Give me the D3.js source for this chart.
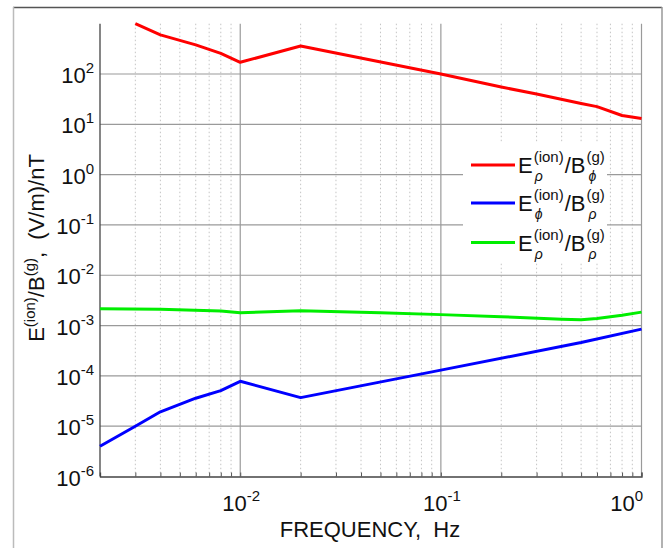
<!DOCTYPE html>
<html lang="en"><head>
<meta charset="utf-8">
<title>E/B ratio vs frequency</title>
<script src="https://cdnjs.cloudflare.com/ajax/libs/d3/7.8.5/d3.min.js"></script>
<style>
  body { margin: 0; background: #fff; }
  text { font-family: "Liberation Sans", Arial, sans-serif; fill: #111; }
</style>
</head>
<body>
<div id="chart"></div>
<script>
// values
var redFreq  = [0.003, 0.004, 0.006, 0.008, 0.01, 0.02, 0.1, 0.2, 0.3, 0.5, 0.6, 0.8, 1];
var redVals  = [1000, 600, 380, 258, 171, 360, 100, 55, 40, 26, 22.5, 15, 13];
var blueFreq = [0.002, 0.003, 0.004, 0.006, 0.008, 0.01, 0.02, 0.1, 0.5, 1];
var blueVals = [4.0e-6, 1.0e-5, 1.93e-5, 3.6e-5, 5.1e-5, 7.8e-5, 3.7e-5, 1.3e-4, 4.6e-4, 8.5e-4];
var greenFreq = [0.002, 0.004, 0.008, 0.01, 0.02, 0.05, 0.1, 0.2, 0.4, 0.5, 0.6, 0.8, 1];
var greenVals = [2.15e-3, 2.1e-3, 1.95e-3, 1.8e-3, 1.98e-3, 1.8e-3, 1.65e-3, 1.5e-3, 1.33e-3, 1.3e-3, 1.38e-3, 1.6e-3, 1.85e-3];
var xTickExp = [-2, -1, 0];
var yTickExp = [2, 1, 0, -1, -2, -3, -4, -5, -6];

var W = 671, H = 548;
var svg = d3.select("#chart").append("svg").attr("width", W).attr("height", H);

// outer frame
svg.append("line").attr("x1", 13).attr("x2", 662).attr("y1", 7.5).attr("y2", 7.5).attr("stroke", "#555").attr("stroke-width", 1.5);
svg.append("line").attr("x1", 13.5).attr("x2", 13.5).attr("y1", 7).attr("y2", H).attr("stroke", "#bbb").attr("stroke-width", 1.5);
svg.append("line").attr("x1", 662).attr("x2", 662).attr("y1", 7).attr("y2", H).attr("stroke", "#999").attr("stroke-width", 1.5);

var x = d3.scaleLog().domain([0.002, 1]).range([100, 641.5]);
var y = d3.scaleLog().domain([1e-6, 1e3]).range([476.5, 23.7]);

// minor vertical dotted grid
var minors = [];
[0.001, 0.01, 0.1].forEach(function(b){
  for (var k = 2; k <= 9; k++) {
    var v = b * k;
    if (v > 0.002 && v < 1) minors.push(v);
  }
});
svg.append("g").selectAll("line").data(minors).enter().append("line")
  .attr("x1", function(d){ return x(d); }).attr("x2", function(d){ return x(d); })
  .attr("y1", y(1e3)).attr("y2", y(1e-6))
  .attr("stroke", "#c4c4c4").attr("stroke-width", 1).attr("stroke-dasharray", "1.5,2.5");

// major grid
svg.append("g").selectAll("line").data(xTickExp).enter().append("line")
  .attr("x1", function(d){ return x(Math.pow(10, d)); }).attr("x2", function(d){ return x(Math.pow(10, d)); })
  .attr("y1", y(1e3)).attr("y2", y(1e-6))
  .attr("stroke", "#9a9a9a").attr("stroke-width", 1.2);
svg.append("g").selectAll("line").data(yTickExp.filter(function(d){ return d > -6; })).enter().append("line")
  .attr("x1", x(0.002)).attr("x2", x(1))
  .attr("y1", function(d){ return y(Math.pow(10, d)); }).attr("y2", function(d){ return y(Math.pow(10, d)); })
  .attr("stroke", "#9a9a9a").attr("stroke-width", 1.2);

// axes
var xAxis = d3.axisBottom(x).tickValues(minors.concat([0.01, 0.1, 1])).tickSize(-4).tickFormat("");
svg.append("g").attr("transform", "translate(0," + y(1e-6) + ")").call(xAxis)
  .call(function(g){ g.select(".domain").attr("stroke", "#444").attr("stroke-width", 1.3); g.selectAll(".tick line").attr("stroke", "#555"); });
svg.append("line").attr("x1", 100).attr("x2", 100).attr("y1", y(1e3)).attr("y2", y(1e-6)).attr("stroke", "#444").attr("stroke-width", 1.3);

// tick labels (10^n)
function powLabel(g, xp, yp, e, anchor) {
  var t = g.append("text").attr("x", xp).attr("y", yp).attr("text-anchor", anchor).style("font-size", "22px");
  t.append("tspan").text("10");
  t.append("tspan").attr("dy", -10).style("font-size", "15px").text(String(e));
  return t;
}
var yl = svg.append("g");
yTickExp.forEach(function(e){ powLabel(yl, 94, y(Math.pow(10, e)) + 9, e, "end"); });
var xl = svg.append("g");
xTickExp.forEach(function(e){
  var xp = e === 0 ? 643 : x(Math.pow(10, e)) + 1;
  powLabel(xl, xp, 511, e, e === 0 ? "end" : "middle");
});

// axis titles
svg.append("text").attr("x", 370).attr("y", 537).attr("text-anchor", "middle").style("font-size", "22px")
  .text("FREQUENCY,\u00a0\u00a0Hz");
var yt = svg.append("text").attr("transform", "translate(44,248) rotate(-90)").attr("text-anchor", "middle").style("font-size", "22px");
yt.append("tspan").text("E");
yt.append("tspan").attr("dy", -9).style("font-size", "15px").text("(ion)");
yt.append("tspan").attr("dy", 9).text("/B");
yt.append("tspan").attr("dy", -9).style("font-size", "15px").text("(g)");
yt.append("tspan").attr("dy", 9).text(",\u00a0\u00a0(V/m)/nT");

// curves
var line = d3.line().x(function(d){ return x(d[0]); }).y(function(d){ return y(d[1]); });
var series = [
  { f: redFreq, v: redVals, c: "#ff0000", sub1: "\u03c1", sub2: "\u03d5" },
  { f: blueFreq, v: blueVals, c: "#0000ff", sub1: "\u03d5", sub2: "\u03c1" },
  { f: greenFreq, v: greenVals, c: "#00ee00", sub1: "\u03c1", sub2: "\u03c1" }
];
series.forEach(function(s){
  svg.append("path").datum(d3.zip(s.f, s.v)).attr("d", line)
    .attr("fill", "none").attr("stroke", s.c).attr("stroke-width", 3).attr("stroke-linejoin", "round");
});

// legend
svg.append("rect").attr("x", 463).attr("y", 143).attr("width", 144).attr("height", 119).attr("fill", "#fff");
var legY = [165, 203, 242.5];
series.forEach(function(s, i){
  var ly = legY[i];
  var g = svg.append("g");
  g.append("line").attr("x1", 471).attr("x2", 515).attr("y1", ly).attr("y2", ly).attr("stroke", s.c).attr("stroke-width", 3);
  var cx = 518;
  var e = g.append("text").attr("x", cx).attr("y", ly + 8).style("font-size", "22px").text("E");
  cx += e.node().getComputedTextLength() + 1;
  var sp = g.append("text").attr("x", cx).attr("y", ly - 3).style("font-size", "15px").text("(ion)");
  g.append("text").attr("x", cx + 1).attr("y", ly + 16).style("font-size", "14px").style("font-style", "italic").text(s.sub1);
  cx += sp.node().getComputedTextLength() + 1;
  var b = g.append("text").attr("x", cx).attr("y", ly + 8).style("font-size", "22px").text("/B");
  cx += b.node().getComputedTextLength() + 1;
  g.append("text").attr("x", cx).attr("y", ly - 3).style("font-size", "15px").text("(g)");
  g.append("text").attr("x", cx + 2).attr("y", ly + 16).style("font-size", "14px").style("font-style", "italic").text(s.sub2);
});
</script>
</body></html>
